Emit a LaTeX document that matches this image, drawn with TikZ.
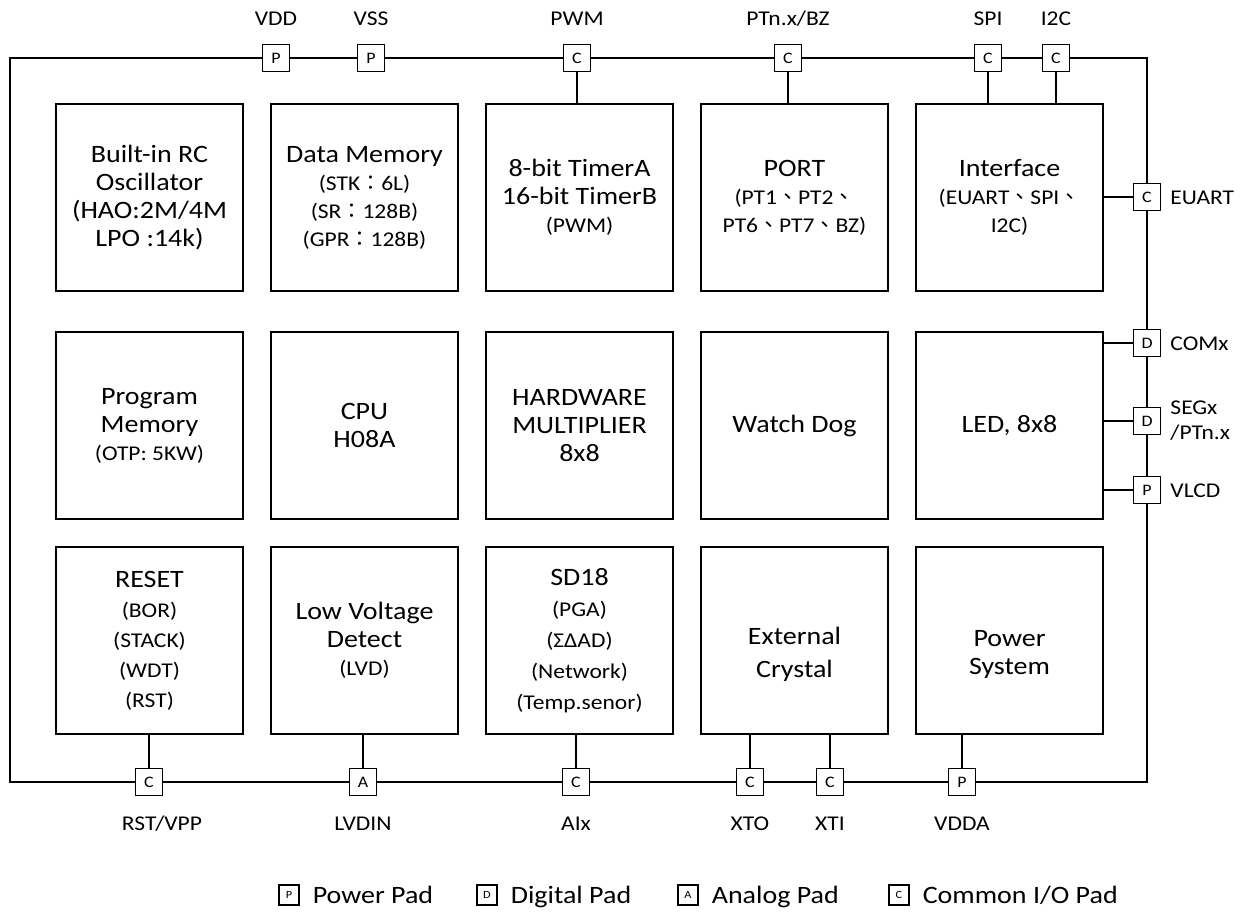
\documentclass[tikz,border=0pt]{standalone}
\usepackage{fontspec}
\setmainfont{Carlito}[FakeStretch=1.12]
\newfontfamily\cjk{Noto Sans CJK TC}
\usetikzlibrary{positioning}
\newcommand\subf{\fontsize{21}{28}\selectfont}
\newcommand\fcolon{{\cjk ：}}
\newcommand\dun{{\cjk 、}}
\tikzset{
 blk/.style={draw,line width=2pt,minimum width=187pt,minimum height=187pt,
   align=center,inner sep=2pt,font=\fontsize{25}{28}\selectfont},
 blktxt/.style={align=center,inner sep=0pt,font=\fontsize{25}{33}\selectfont},
 pad/.style={draw,line width=1.5pt,fill=white,minimum size=27pt,inner sep=0pt,
   font=\fontsize{16}{16}\selectfont},
 lbl/.style={inner sep=0pt,text height=14pt,text depth=0pt,font=\fontsize{21}{21}\selectfont},
 ring/.style={line width=2pt},
 wire/.style={line width=1.5pt},
 key/.style={draw,line width=1.2pt,minimum size=20pt,inner sep=0pt,font=\fontsize{11}{11}\selectfont},
 keytxt/.style={inner sep=0pt,text height=16pt,text depth=0pt,font=\fontsize{25}{25}\selectfont}
}
\begin{document}
\begin{tikzpicture}[x=1pt,y=-1pt,node distance=39pt and 26pt]
 \useasboundingbox (0,0) rectangle (1242,911);
 % function blocks, row by row
 \node[blk] (osc) at (149.5,197.5) {Built-in RC\\Oscillator\\(HAO:2M/4M\\LPO :14k)};
 \node[blk,right=of osc] (dmem) {Data Memory\\{\subf (STK\fcolon 6L)}\\{\subf (SR\fcolon 128B)}\\{\subf (GPR\fcolon 128B)}};
 \node[blk,right=of dmem] (timer) {8-bit TimerA\\16-bit TimerB\\{\subf (PWM)}};
 \node[blk,right=of timer] (port) {PORT\\{\subf (PT1\dun PT2\dun}\\{\subf PT6\dun PT7\dun BZ)}};
 \node[blk,right=of port] (iface) {Interface\\{\subf (EUART\dun SPI\dun}\\{\subf I2C)}};
 \node[blk,below=of osc] (prog) {Program\\Memory\\{\subf (OTP: 5KW)}};
 \node[blk,right=of prog] (cpu) {CPU\\H08A};
 \node[blk,right=of cpu] (mult) {HARDWARE\\MULTIPLIER\\8x8};
 \node[blk,right=of mult] (wdog) {Watch Dog};
 \node[blk,right=of wdog] (led) {LED, 8x8};
 \node[blk,below=26pt of prog,font=\fontsize{25}{30}\selectfont] (reset) {RESET\\{\subf (BOR)}\\{\subf (STACK)}\\{\subf (WDT)}\\{\subf (RST)}};
 \node[blk,right=of reset] (lvd) {Low Voltage\\Detect\\{\subf (LVD)}};
 \node[blk,right=of lvd,font=\fontsize{25}{31}\selectfont] (sd) {SD18\\{\subf (PGA)}\\{\subf (ΣΔAD)}\\{\subf (Network)}\\{\subf (Temp.senor)}};
 \node[blk,right=of sd] (xtal) {};
 \node[blk,right=of xtal] (pwr) {};
 \node[blktxt] (xtaltxt) at ([yshift=-14pt]xtal.center) {External\\Crystal};
 \node[blktxt,font=\fontsize{25}{28}\selectfont] (pwrtxt) at ([yshift=-14pt]pwr.center) {Power\\System};
 % pads on the top edge
 \node[pad] (vdd) at (276,58) {P};
 \node[pad] (vss) at (371,58) {P};
 \node[pad] (pwm) at (577,58) {C};
 \node[pad] (ptn) at (788,58) {C};
 \node[pad] (spi) at (988,58) {C};
 \node[pad] (i2c) at (1056,58) {C};
 % pads on the right edge
 \node[pad] (euart) at (1147,197) {C};
 \node[pad] (comx) at (1147,343) {D};
 \node[pad] (segx) at (1147,421) {D};
 \node[pad] (vlcd) at (1147,490) {P};
 % pads on the bottom edge
 \node[pad] (rst) at (149,782) {C};
 \node[pad] (lvdin) at (363,782) {A};
 \node[pad] (aix) at (576,782) {C};
 \node[pad] (xto) at (750,782) {C};
 \node[pad] (xti) at (830,782) {C};
 \node[pad] (vdda) at (962,782) {P};
 \coordinate (tl) at (10,58);
 \coordinate (tr) at (1147,58);
 \coordinate (br) at (1147,782);
 \coordinate (bl) at (10,782);
 % pad names
 \node[lbl,above=18pt of vdd] (vddlbl) {VDD};
 \node[lbl,above=18pt of vss] (vsslbl) {VSS};
 \node[lbl,above=18pt of pwm] (pwmlbl) {PWM};
 \node[lbl,above=18pt of ptn] (ptnlbl) {PTn.x/BZ};
 \node[lbl,above=18pt of spi] (spilbl) {SPI};
 \node[lbl,above=18pt of i2c] (i2clbl) {I2C};
 \node[lbl,right=9pt of euart] (euartlbl) {EUART};
 \node[lbl,right=9pt of comx] (comxlbl) {COMx};
 \node[inner sep=0pt,align=left,font=\fontsize{21}{25}\selectfont,right=9pt of segx] (segxlbl) {SEGx\\/PTn.x};
 \node[lbl,right=9pt of vlcd] (vlcdlbl) {VLCD};
 \node[lbl,below=20pt of rst,xshift=13pt] (rstlbl) {RST/VPP};
 \node[lbl,below=20pt of lvdin] (lvdinlbl) {LVDIN};
 \node[lbl,below=20pt of aix] (aixlbl) {AIx};
 \node[lbl,below=20pt of xto] (xtolbl) {XTO};
 \node[lbl,below=20pt of xti] (xtilbl) {XTI};
 \node[lbl,below=20pt of vdda] (vddalbl) {VDDA};
 % the pad ring
 \draw[ring] (vdd) -- (vss) -- (pwm) -- (ptn) -- (spi) -- (i2c) -- (tr)
   -- (euart) -- (comx) -- (segx) -- (vlcd) -- (br)
   -- (vdda) -- (xti) -- (xto) -- (aix) -- (lvdin) -- (rst) -- (bl) -- (tl) -- (vdd);
 % pads to blocks
 \draw[wire] (pwm) -- (pwm |- timer.north);
 \draw[wire] (ptn) -- (ptn |- port.north);
 \draw[wire] (spi) -- (spi |- iface.north);
 \draw[wire] (i2c) -- (i2c |- iface.north);
 \draw[wire] (euart) -- (euart -| iface.east);
 \draw[wire] (comx) -- (comx -| led.east);
 \draw[wire] (segx) -- (segx -| led.east);
 \draw[wire] (vlcd) -- (vlcd -| led.east);
 \draw[wire] (rst) -- (rst |- reset.south);
 \draw[wire] (lvdin) -- (lvdin |- lvd.south);
 \draw[wire] (aix) -- (aix |- sd.south);
 \draw[wire] (xto) -- (xto |- xtal.south);
 \draw[wire] (xti) -- (xti |- xtal.south);
 \draw[wire] (vdda) -- (vdda |- pwr.south);
 % legend
 \node[key] (kp) at (289,895) {P};
 \node[keytxt,right=13pt of kp] (kptxt) {Power Pad};
 \node[key] (kd) at (487,895) {D};
 \node[keytxt,right=13pt of kd] (kdtxt) {Digital Pad};
 \node[key] (ka) at (688,895) {A};
 \node[keytxt,right=13pt of ka] (katxt) {Analog Pad};
 \node[key] (kc) at (899,895) {C};
 \node[keytxt,right=13pt of kc] (kctxt) {Common I/O Pad};
\end{tikzpicture}
\end{document}
